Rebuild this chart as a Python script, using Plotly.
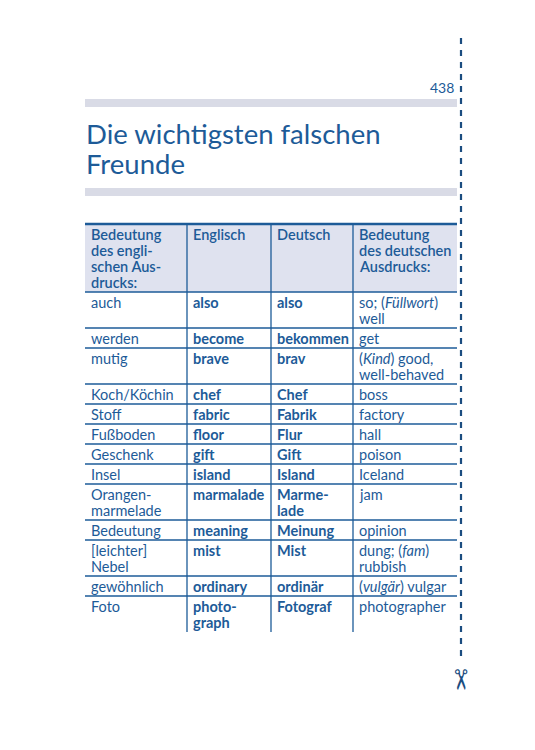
import plotly.graph_objects as go

title_lines = ["Die wichtigsten falschen", "Freunde"]
page_number = "438"
headers = ["Bedeutung<br>des engli-<br>schen Aus-<br>drucks:", "Englisch", "Deutsch", "Bedeutung<br>des deutschen<br>Ausdrucks:"]
col_meaning_en = ["auch", "werden", "mutig", "Koch/Köchin", "Stoff", "Fußboden", "Geschenk", "Insel",
                  "Orangen-<br>marmelade", "Bedeutung", "[leichter]<br>Nebel", "gewöhnlich", "Foto"]
col_english = ["also", "become", "brave", "chef", "fabric", "floor", "gift", "island",
               "marmalade", "meaning", "mist", "ordinary", "photo-<br>graph"]
col_german = ["also", "bekommen", "brav", "Chef", "Fabrik", "Flur", "Gift", "Island",
              "Marme-<br>lade", "Meinung", "Mist", "ordinär", "Fotograf"]
col_meaning_de = ["so; (<i>Füllwort</i>)<br>well", "get", "(<i>Kind</i>) good,<br>well-behaved", "boss", "factory",
                  "hall", "poison", "Iceland", "jam", "opinion", "dung; (<i>fam</i>)<br>rubbish",
                  "(<i>vulgär</i>) vulgar", "photographer"]

BLUE = "#1d5b98"
FILL = "#dfe2ef"
BAR = "#d9dbe6"
FONT = "Lato"
col_x = [85, 187, 271, 353, 457]
top = 224
line_h = 16
OFF = 8  # browser body margin

fig = go.Figure()
shapes, ann = [], []

rows = [headers] + [list(r) for r in zip(col_meaning_en, col_english, col_german, col_meaning_de)]
y = top
bounds = []
for r in rows:
    h = 4 + line_h * max(c.count("<br>") + 1 for c in r)
    bounds.append((y, y + h))
    y += h
bottom = y

shapes.append(dict(type="rect", x0=col_x[0], x1=col_x[-1], y0=bounds[0][0], y1=bounds[0][1],
                   fillcolor=FILL, line_width=0, layer="below"))
shapes.append(dict(type="line", x0=col_x[0], x1=col_x[-1], y0=top, y1=top, line=dict(color=BLUE, width=2.5)))
for (y0, y1) in bounds[:-1]:
    shapes.append(dict(type="line", x0=col_x[0], x1=col_x[-1], y0=y1, y1=y1, line=dict(color=BLUE, width=1.3)))
for xv in col_x[1:-1]:
    shapes.append(dict(type="line", x0=xv, x1=xv, y0=top, y1=bottom, line=dict(color=BLUE, width=1.3)))

for ri, (r, (y0, y1)) in enumerate(zip(rows, bounds)):
    for ci, txt in enumerate(r):
        for k, part in enumerate(txt.split("<br>")):
            t = f"<b>{part}</b>" if (ri > 0 and ci in (1, 2)) else part
            ann.append(dict(x=col_x[ci] + 4, y=y0 + 2 + line_h * k + line_h / 2, text=t, showarrow=False,
                            xanchor="left", yanchor="middle", align="left",
                            font=dict(family=FONT, size=14.5, color=BLUE,
                                      weight=600 if ri == 0 else None)))

for yb in (103, 192):
    shapes.append(dict(type="rect", x0=85, x1=457, y0=yb - 4, y1=yb + 4, fillcolor=BAR, line_width=0))
for i, tl in enumerate(title_lines):
    ann.append(dict(x=84, y=133 + 30 * i, text=tl, showarrow=False, xanchor="left", yanchor="middle",
                    font=dict(family=FONT, size=27.5, color=BLUE)))
ann.append(dict(x=456, y=87, text=page_number, showarrow=False, xanchor="right", yanchor="middle",
                font=dict(family=FONT, size=14, color=BLUE)))
shapes.append(dict(type="line", x0=461, x1=461, y0=38, y1=662, line=dict(color="#1b4d80", width=2.2, dash="6px,6px")))
ann.append(dict(x=461, y=679, text="✂", showarrow=False, textangle=90, xanchor="center", yanchor="middle",
                font=dict(family="DejaVu Sans", size=28, color="#1b4d80")))

fig.update_layout(width=535, height=750, margin=dict(l=0, r=0, t=0, b=0), plot_bgcolor="white",
                  paper_bgcolor="white", shapes=shapes, annotations=ann, showlegend=False,
                  xaxis=dict(range=[OFF, 535 + OFF], visible=False, fixedrange=True),
                  yaxis=dict(range=[750 + OFF, OFF], visible=False, fixedrange=True))
fig.write_html("out.html")
